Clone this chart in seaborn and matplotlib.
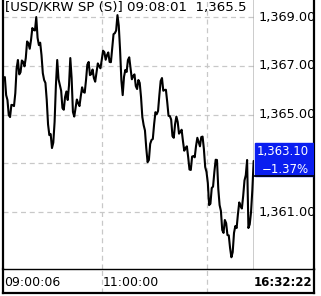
import numpy as np
import pandas as pd
import matplotlib
matplotlib.use("Agg")
import matplotlib.pyplot as plt
import seaborn as sns
from matplotlib import transforms

# ---------------- data ----------------
title_text = "[USD/KRW SP (S)] 09:08:01  1,365.5"
prices = [
    1366.54, 1365.80, 1365.60, 1364.98, 1364.90, 1365.40, 1365.39, 1365.35, 1365.88, 1366.90,
    1367.24, 1366.65, 1366.74, 1367.22, 1367.16, 1366.98, 1367.32, 1368.00, 1367.93, 1367.70,
    1368.06, 1368.55, 1368.47, 1368.45, 1369.00, 1368.15, 1367.85, 1367.95, 1367.44, 1366.70,
    1366.42, 1366.30, 1365.60, 1364.60, 1364.16, 1364.20, 1363.63, 1363.85, 1364.70, 1366.20,
    1367.24, 1366.45, 1366.21, 1365.98, 1365.27, 1365.20, 1365.72, 1365.95, 1365.60, 1366.20,
    1367.32, 1366.50, 1365.11, 1364.92, 1365.27, 1365.62, 1365.47, 1365.35, 1365.76, 1366.12,
    1365.93, 1365.90, 1366.42, 1367.05, 1367.16, 1366.62, 1366.66, 1366.85, 1366.50, 1366.35,
    1366.74, 1367.10, 1366.99, 1366.90, 1367.24, 1367.62, 1367.56, 1367.25, 1367.44, 1367.55,
    1367.16, 1367.15, 1367.73, 1368.30, 1368.34, 1368.45, 1369.08, 1368.65, 1367.65, 1366.40,
    1365.80, 1366.55, 1366.83, 1366.75, 1367.24, 1367.35, 1366.91, 1366.45, 1366.58, 1366.65,
    1366.17, 1366.05, 1366.42, 1366.30, 1365.72, 1364.90, 1364.57, 1364.35, 1363.63, 1363.05,
    1363.14, 1363.80, 1363.96, 1364.00, 1364.61, 1365.10, 1365.02, 1365.15, 1365.80, 1366.38,
    1366.50, 1365.98, 1366.01, 1366.02, 1365.52, 1364.95, 1364.94, 1364.80, 1364.12, 1364.05,
    1364.61, 1364.92, 1364.70, 1364.22, 1364.29, 1364.38, 1363.92, 1363.52, 1363.63, 1363.70,
    1363.26, 1362.75, 1362.73, 1363.28, 1363.30, 1363.25, 1363.71, 1364.05, 1363.88, 1363.70,
    1364.08, 1364.10, 1363.59, 1362.85, 1362.65, 1362.20, 1361.29, 1361.35, 1361.99, 1362.05,
    1362.65, 1363.15, 1363.14, 1361.95, 1361.29, 1361.05, 1360.27, 1360.15, 1360.68, 1360.55,
    1360.06, 1360.05, 1359.53, 1359.15, 1359.36, 1360.15, 1360.43, 1360.35, 1360.92, 1361.40,
    1361.25, 1361.15, 1361.66, 1362.30, 1362.52, 1363.14, 1360.35, 1360.50, 1361.00, 1361.91,
    1363.10,
]
start_min = 9.0      # minutes after 09:00
step_min = 1.5
minutes = start_min + step_min * np.arange(len(prices))

y_major = [1361, 1363, 1365, 1367, 1369]
y_minor = [1360, 1362, 1364, 1366, 1368]
x_grid = [120, 240]
x_labels = [(8.5, "09:00:06"), (120.6, "11:00:00")]
now_label = "16:32:22"
last_label = "1,363.10"
change_label = "\u22121.37%"

df = pd.DataFrame({"minute": minutes, "price": prices})

# ---------------- style ----------------
sns.set_style("white")
plt.rcParams['font.family'] = ['DejaVu Sans']

W, H = 321, 296
fig = plt.figure(figsize=(W / 100, H / 100), dpi=100)
fig.patch.set_facecolor("white")


def rect(x0, y0, x1, y1):
    return [x0 / W, 1 - y1 / H, (x1 - x0) / W, (y1 - y0) / H]


ax = fig.add_axes(rect(3, 0, 254, 269))
ax_r = fig.add_axes(rect(254, 0, 314, 269))
ax_b = fig.add_axes(rect(3, 269, 314, 293))

grid_kw = dict(color="#c8c8c8", ls=(0, (4, 3)), lw=0.9)

# main chart
sns.lineplot(data=df, x="minute", y="price", ax=ax, color="black", lw=1.5)
ax.set_xlim(6.9, 294.4)
ax.set_ylim(1358.67, 1369.70)
ax.set_xlabel("")
ax.set_ylabel("")
ax.set_xticks(x_grid)
ax.set_yticks(y_major)
ax.set_yticks(y_minor, minor=True)
ax.grid(True, which="major", **grid_kw)
ax.tick_params(axis="x", length=0, labelbottom=False)
ax.tick_params(axis="y", which="both", left=False, right=True, labelleft=False,
               labelright=False, direction="out", color="#606060")
ax.tick_params(axis="y", which="major", length=4, width=1)
ax.tick_params(axis="y", which="minor", length=3, width=1, color="#a0a0a0")
for s in ["top", "bottom"]:
    ax.spines[s].set_visible(False)
ax.spines["left"].set_linewidth(1.6)
ax.spines["left"].set_color("black")
ax.spines["right"].set_linewidth(1.0)
ax.spines["right"].set_color("black")
ax.text(2 / 251, 1 - 1 / 269, title_text, transform=ax.transAxes, ha="left", va="top",
        fontsize=9.6, color="black", clip_on=True)

# right column
ax_r.set_xlim(0, 1)
ax_r.set_ylim(ax.get_ylim())
ax_r.set_xticks([])
ax_r.set_yticks([])
for s in ["top", "bottom", "left"]:
    ax_r.spines[s].set_visible(False)
ax_r.spines["right"].set_linewidth(1.6)
ax_r.spines["right"].set_color("black")
tr_r = transforms.blended_transform_factory(ax_r.transAxes, ax_r.transData)

last = prices[-1]
box_top = last + 0.74
box_bottom = last - 0.62

for v in y_major:
    if box_bottom <= v <= box_top:
        continue  # hidden under the current-price box
    ax_r.text(5 / 60, v, f"{v:,.2f}", transform=tr_r, ha="left", va="center",
              fontsize=9.3, color="black", clip_on=True)

ax_r.axhspan(box_bottom, box_top, xmin=0.01, xmax=1, color="#0a1ef0", zorder=3)
ax_r.axhline(box_bottom, color="black", lw=1.2, zorder=4)
ax_r.text(3 / 60, box_top - 0.35, last_label, transform=tr_r, ha="left", va="center",
          fontsize=8.5, color="white", zorder=5, clip_on=True)
ax_r.text(0.52, box_bottom + 0.26, change_label, transform=tr_r, ha="center", va="center",
          fontsize=8.5, color="white", zorder=5, clip_on=True)

# bottom time row
ax_b.set_xlim(0, 1)
ax_b.set_ylim(0, 1)
ax_b.set_xticks([])
ax_b.set_yticks([])
ax_b.spines["top"].set_linewidth(1.0)
for s in ["bottom", "left", "right"]:
    ax_b.spines[s].set_linewidth(1.6)
for s in ax_b.spines.values():
    s.set_color("black")
tr_b = transforms.blended_transform_factory(ax.transData, ax_b.transAxes)
for xg in x_grid:
    ax_b.plot([xg, xg], [0, 1], transform=tr_b, **grid_kw)
for xv, lab in x_labels:
    ax_b.text(xv, 0.42, lab, transform=tr_b, ha="left", va="center", fontsize=9,
              color="black", clip_on=True)
ax_b.text(0.994, 0.42, now_label, transform=ax_b.transAxes, ha="right", va="center",
          fontsize=8.5, fontweight="bold", color="black")

fig.savefig("out.png", dpi=100)
